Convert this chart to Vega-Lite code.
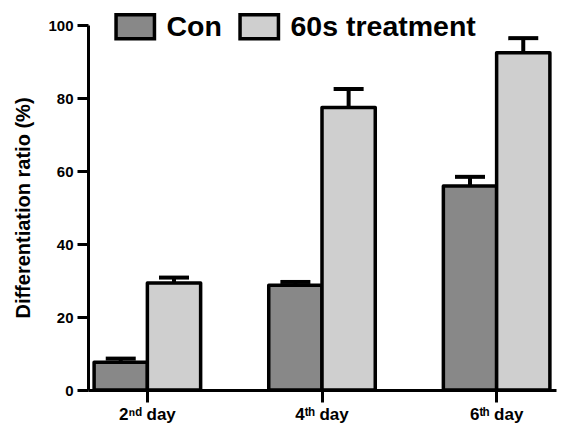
{
  "$schema": "https://vega.github.io/schema/vega-lite/v6.json",
  "width": 468,
  "height": 365,
  "autosize": "none",
  "padding": {"left": 88, "top": 25, "right": 9, "bottom": 43},
  "background": "white",
  "config": {"view": {"stroke": null}, "font": "Liberation Sans"},
  "data": {"values": [
    {"day": "2ⁿᵈ day", "group": "Con", "value": 7.6, "upper": 8.6},
    {"day": "2ⁿᵈ day", "group": "60s treatment", "value": 29.3, "upper": 30.8},
    {"day": "4ᵗʰ day", "group": "Con", "value": 28.7, "upper": 29.6},
    {"day": "4ᵗʰ day", "group": "60s treatment", "value": 77.4, "upper": 82.5},
    {"day": "6ᵗʰ day", "group": "Con", "value": 55.9, "upper": 58.4},
    {"day": "6ᵗʰ day", "group": "60s treatment", "value": 92.4, "upper": 96.4}
  ]},
  "encoding": {
    "x": {"field": "day", "type": "nominal", "sort": null,
      "scale": {"paddingInner": 0.39, "paddingOuter": 0.035},
      "axis": {"title": null, "labelAngle": 0, "labelFont": "Liberation Sans", "labelFontWeight": "bold", "labelFontSize": 17, "labelColor": "black", "labelPadding": 4, "domainColor": "black", "domainWidth": 3, "tickColor": "black", "tickWidth": 3, "tickSize": 12}},
    "xOffset": {"field": "group", "type": "nominal", "sort": ["Con", "60s treatment"], "scale": {"paddingInner": 0, "paddingOuter": 0}}
  },
  "layer": [
    {
      "mark": {"type": "bar", "stroke": "black", "strokeWidth": 3.5, "strokeJoin": "round"},
      "encoding": {
        "y": {"field": "value", "type": "quantitative",
          "scale": {"domain": [0, 100], "nice": false},
          "axis": {"title": "Differentiation ratio (%)", "values": [0, 20, 40, 60, 80, 100], "grid": false, "labelFont": "Liberation Sans", "labelFontWeight": "bold", "labelFontSize": 15, "labelColor": "black", "labelPadding": 4, "domainColor": "black", "domainWidth": 3, "tickColor": "black", "tickWidth": 3, "tickSize": 11, "titleFont": "Liberation Sans", "titleFontWeight": "bold", "titleFontSize": 20, "titleColor": "black", "titlePadding": 14}},
        "fill": {"field": "group", "type": "nominal", "sort": ["Con", "60s treatment"],
          "scale": {"domain": ["Con", "60s treatment"], "range": ["#888888", "#cfcfcf"]},
          "legend": {"title": null, "orient": "none", "direction": "horizontal", "legendX": 33, "legendY": -13, "padding": 0,
            "symbolType": "M-1.6,-1H1.6V1H-1.6Z", "symbolSize": 576, "symbolStrokeColor": "black", "symbolStrokeWidth": 3.5,
            "labelFont": "Liberation Sans", "labelFontWeight": "bold", "labelFontSize": 28.5, "labelColor": "black", "labelOffset": 17, "columnPadding": 11, "labelLimit": 300}}
      }
    },
    {
      "mark": {"type": "rule", "stroke": "black", "strokeWidth": 4},
      "encoding": {
        "y": {"field": "value", "type": "quantitative"},
        "y2": {"field": "upper"}
      }
    },
    {
      "mark": {"type": "tick", "color": "black", "thickness": 4, "size": 30, "opacity": 1},
      "encoding": {
        "y": {"field": "upper", "type": "quantitative"}
      }
    }
  ]
}
